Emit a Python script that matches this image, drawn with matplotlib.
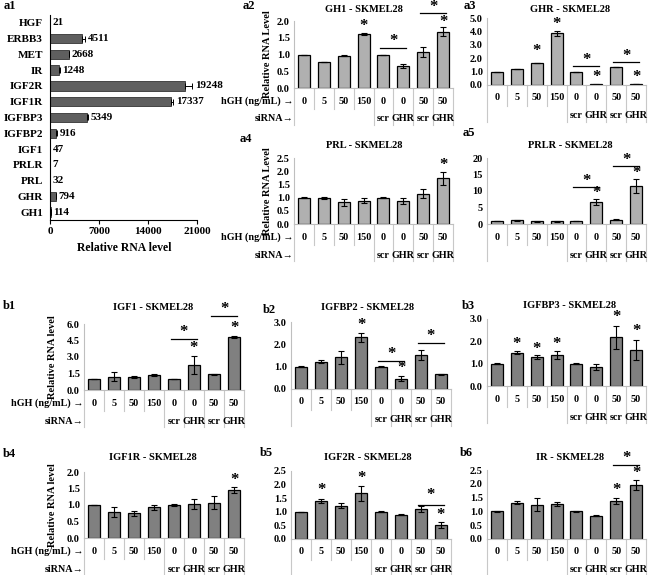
import numpy as np
import matplotlib
matplotlib.use('Agg')
import matplotlib.pyplot as plt
from matplotlib.transforms import blended_transform_factory

plt.rcParams['font.family'] = ['Liberation Serif', 'DejaVu Serif']
plt.rcParams['font.weight'] = 'bold'

W, H = 650, 575

# a1: baseline expression
genes = ['HGF', 'ERBB3', 'MET', 'IR', 'IGF2R', 'IGF1R', 'IGFBP3', 'IGFBP2',
         'IGF1', 'PRLR', 'PRL', 'GHR', 'GH1']
gene_level = [21, 4511, 2668, 1248, 19248, 17337, 5349, 916, 47, 7, 32, 794, 114]
gene_err = [5, 550, 60, 150, 1100, 300, 150, 120, 10, 2, 8, 90, 40]

# shared category rows
hgh = ['0', '5', '50', '150', '0', '0', '50', '50']
sirna = ['', '', '', '', 'scr', 'GHR', 'scr', 'GHR']

# a2 .. a5
gh1 = [1.0, 0.78, 0.97, 1.62, 1.0, 0.66, 1.08, 1.68]
gh1_err = [0.0, 0.01, 0.01, 0.03, 0.0, 0.06, 0.15, 0.13]
gh1_stars = [(3, 1.85), (7, 1.98)]
gh1_pairs = [(4, 5, 1.19, 1.40), (6, 7, 2.24, 2.42)]

ghr = [1.0, 1.2, 1.65, 3.85, 1.0, 0.05, 1.35, 0.07]
ghr_err = [0.0, 0.02, 0.02, 0.2, 0.0, 0.02, 0.02, 0.03]
ghr_stars = [(2, 2.5), (3, 4.55), (5, 0.6), (7, 0.6)]
ghr_pairs = [(4, 5, 1.4, 1.9), (6, 7, 1.7, 2.2)]

prl = [1.0, 1.0, 0.83, 0.88, 1.0, 0.87, 1.15, 1.73]
prl_err = [0.02, 0.04, 0.13, 0.1, 0.01, 0.1, 0.17, 0.25]
prl_stars = [(7, 2.25)]
prl_pairs = []

prlr = [1.0, 1.1, 0.8, 0.8, 1.0, 6.7, 1.3, 11.5]
prlr_err = [0.05, 0.05, 0.05, 0.05, 0.05, 1.0, 0.2, 2.0]
prlr_stars = [(5, 9.4), (7, 15.4)]
prlr_pairs = [(4, 5, 11.3, 13.1), (6, 7, 17.6, 19.4)]

# b1 .. b6
igf1 = [1.0, 1.2, 1.15, 1.38, 1.0, 2.3, 1.42, 4.85]
igf1_err = [0.0, 0.4, 0.1, 0.1, 0.0, 0.8, 0.07, 0.1]
igf1_stars = [(5, 3.8), (7, 5.6)]
igf1_pairs = [(4, 5, 4.6, 5.3), (6, 7, 6.7, 7.4)]

igfbp2 = [1.0, 1.23, 1.42, 2.32, 1.0, 0.47, 1.52, 0.65]
igfbp2_err = [0.02, 0.05, 0.28, 0.2, 0.02, 0.12, 0.22, 0.02]
igfbp2_stars = [(3, 2.87), (5, 0.94)]
igfbp2_pairs = [(4, 5, 1.26, 1.57), (6, 7, 2.06, 2.36)]

igfbp3 = [1.0, 1.5, 1.3, 1.4, 1.0, 0.85, 2.18, 1.6]
igfbp3_err = [0.01, 0.08, 0.08, 0.17, 0.03, 0.13, 0.52, 0.45]
igfbp3_stars = [(1, 1.86), (2, 1.66), (3, 1.86), (6, 3.1), (7, 2.47)]
igfbp3_pairs = []

igf1r = [1.0, 0.79, 0.75, 0.93, 0.99, 1.04, 1.07, 1.45]
igf1r_err = [0.01, 0.15, 0.07, 0.08, 0.03, 0.15, 0.2, 0.1]
igf1r_stars = [(7, 1.75)]
igf1r_pairs = []

igf2r = [1.0, 1.4, 1.23, 1.68, 1.0, 0.9, 1.1, 0.52]
igf2r_err = [0.0, 0.06, 0.1, 0.27, 0.02, 0.03, 0.1, 0.1]
igf2r_stars = [(1, 1.8), (3, 2.24), (7, 0.88)]
igf2r_pairs = [(6, 7, 1.25, 1.62)]

ir = [1.0, 1.32, 1.25, 1.27, 1.0, 0.84, 1.38, 1.95]
ir_err = [0.01, 0.05, 0.23, 0.06, 0.01, 0.02, 0.1, 0.17]
ir_stars = [(6, 1.78), (7, 2.39)]
ir_pairs = [(6, 7, 2.68, 2.95)]


fig = plt.figure(figsize=(6.5, 5.75), dpi=100)


def px_axes(l, t, r, b):
    return fig.add_axes([l / W, 1 - b / H, (r - l) / W, (b - t) / H])


def ftext(x, y, s, **kw):
    fig.text(x / W, 1 - y / H, s, **kw)


def bar_panel(box, vals, err, ymax, yticks, fmt, color, stars, pairs,
              title, title_xy, tag, tag_xy, ylabel=None, ylabel_x=None, rows=False):
    l, t, r, b = box
    ax = px_axes(l, t, r, b)
    x = np.arange(len(vals))
    ax.bar(x, vals, width=0.6, color=color, edgecolor='black', linewidth=0.9,
           yerr=err, capsize=2.2,
           error_kw=dict(elinewidth=0.8, capthick=0.8, ecolor='black'))
    ax.set_xlim(-0.5, len(vals) - 0.5)
    ax.set_ylim(0, ymax)
    for s in ['top', 'right']:
        ax.spines[s].set_visible(False)
    ax.spines['left'].set_color('#bfbfbf')
    ax.spines['bottom'].set_color('#bfbfbf')
    ax.set_xticks([])
    ax.set_yticks(yticks)
    ax.set_yticklabels([fmt.format(v) for v in yticks], fontsize=7.5)
    ax.tick_params(axis='y', length=0, pad=3)

    # category table under the axis
    hpx = b - t
    tr = blended_transform_factory(ax.transData, ax.transAxes)
    for i in x:
        ax.text(i, -13 / hpx, hgh[i], transform=tr, ha='center', va='center', fontsize=7.3)
        ax.text(i, -31 / hpx, sirna[i], transform=tr, ha='center', va='center', fontsize=7.3)
    for k in range(len(vals) + 1):
        low = -37 if k in (0, 4, 5, 6, 7, 8) else -21
        ax.plot([k - 0.5, k - 0.5], [0, low / hpx], transform=tr, color='#c8c8c8',
                lw=0.8, clip_on=False)
    if rows:
        ax.text(-0.52, -13 / hpx, 'hGH (ng/mL) →', transform=tr, ha='right',
                va='center', fontsize=7.3)
        ax.text(-0.52, -31 / hpx, 'siRNA→', transform=tr, ha='right',
                va='center', fontsize=7.3)

    for i, y in stars:
        ax.text(i, y, '*', ha='center', va='center', fontsize=12, clip_on=False)
    for i, j, yl, ys in pairs:
        ax.plot([i - 0.15, j + 0.15], [yl, yl], color='black', lw=0.9, clip_on=False)
        ax.text((i + j) / 2, ys, '*', ha='center', va='center', fontsize=12, clip_on=False)

    ftext(title_xy[0], title_xy[1], title, ha='center', va='center', fontsize=7.5)
    ftext(tag_xy[0], tag_xy[1], tag, ha='left', va='center', fontsize=9)
    if ylabel:
        ftext(ylabel_x, (t + b) / 2, ylabel, rotation=90, ha='center', va='center',
              fontsize=7.5)
    return ax


# a1
ax1 = px_axes(50, 15, 197, 220)
pos = np.arange(len(genes))
ax1.barh(pos, gene_level, height=0.6, color='#5f5f5f', edgecolor='#333333', linewidth=0.6,
         xerr=[np.zeros(len(genes)), gene_err], capsize=2,
         error_kw=dict(elinewidth=0.7, capthick=0.7, ecolor='black'))
ax1.set_ylim(len(genes) - 0.5, -0.5)
ax1.set_xlim(0, 21000)
for s in ['top', 'right']:
    ax1.spines[s].set_visible(False)
ax1.spines['left'].set_linewidth(0.8)
ax1.spines['bottom'].set_linewidth(0.8)
ax1.set_yticks(pos)
ax1.set_yticklabels(genes, fontsize=8)
ax1.tick_params(axis='y', length=0, pad=5)
ax1.set_xticks([0, 7000, 14000, 21000])
ax1.set_xticklabels(['0', '7000', '14000', '21000'], fontsize=8)
ax1.tick_params(axis='x', length=3, width=0.8, pad=2)
for i, (v, e) in enumerate(zip(gene_level, gene_err)):
    ax1.text(v + e + 350, i, str(v), va='center', ha='left', fontsize=8, clip_on=False)
ftext(124, 248, 'Relative RNA level', ha='center', va='center', fontsize=8.5)
ftext(4, 6, 'a1', ha='left', va='center', fontsize=9)

light = '#b0b0b0'
mid = '#808080'

bar_panel((294, 21, 453, 88), gh1, gh1_err, 2.0, [0, 0.5, 1.0, 1.5, 2.0], '{:.1f}', light,
          gh1_stars, gh1_pairs, 'GH1 - SKMEL28', (364, 10), 'a2', (243, 6),
          'Relative RNA Level', 267, rows=True)
bar_panel((487, 18, 646, 85), ghr, ghr_err, 5.0, [0, 1, 2, 3, 4, 5], '{:.1f}', light,
          ghr_stars, ghr_pairs, 'GHR - SKMEL28', (570, 9), 'a3', (464, 6))
bar_panel((294, 158, 453, 224), prl, prl_err, 2.5, [0, 0.5, 1.0, 1.5, 2.0, 2.5], '{:.1f}',
          light, prl_stars, prl_pairs, 'PRL - SKMEL28', (364, 146), 'a4', (240, 139),
          'Relative RNA Level', 267, rows=True)
bar_panel((487, 158, 646, 224), prlr, prlr_err, 20, [0, 5, 10, 15, 20], '{:d}', light,
          prlr_stars, prlr_pairs, 'PRLR - SKMEL28', (570, 146), 'a5', (463, 133))

bar_panel((84, 324, 244, 390), igf1, igf1_err, 6.0, [0, 1.5, 3.0, 4.5, 6.0], '{:.1f}', mid,
          igf1_stars, igf1_pairs, 'IGF1 - SKMEL28', (153, 307), 'b1', (3, 306),
          'Relative RNA level', 53, rows=True)
bar_panel((291, 322, 451, 389), igfbp2, igfbp2_err, 3.0, [0, 1, 2, 3], '{:.1f}', mid,
          igfbp2_stars, igfbp2_pairs, 'IGFBP2 - SKMEL28', (368, 307), 'b2', (263, 310))
bar_panel((487, 319, 646, 386), igfbp3, igfbp3_err, 3.0, [0, 1, 2, 3], '{:.1f}', mid,
          igfbp3_stars, igfbp3_pairs, 'IGFBP3 - SKMEL28', (570, 305), 'b3', (462, 306))
bar_panel((84, 472, 244, 538), igf1r, igf1r_err, 2.0, [0, 0.5, 1.0, 1.5, 2.0], '{:.1f}', mid,
          igf1r_stars, igf1r_pairs, 'IGF1R - SKMEL28', (153, 458), 'b4', (3, 454),
          'Relative RNA level', 53, rows=True)
bar_panel((291, 471, 451, 539), igf2r, igf2r_err, 2.5, [0, 0.5, 1.0, 1.5, 2.0, 2.5], '{:.1f}',
          mid, igf2r_stars, igf2r_pairs, 'IGF2R - SKMEL28', (368, 458), 'b5', (260, 453))
bar_panel((487, 470, 646, 539), ir, ir_err, 2.5, [0, 0.5, 1.0, 1.5, 2.0, 2.5], '{:.1f}', mid,
          ir_stars, ir_pairs, 'IR - SKMEL28', (570, 457), 'b6', (460, 453))

fig.savefig('out.png', dpi=100)
